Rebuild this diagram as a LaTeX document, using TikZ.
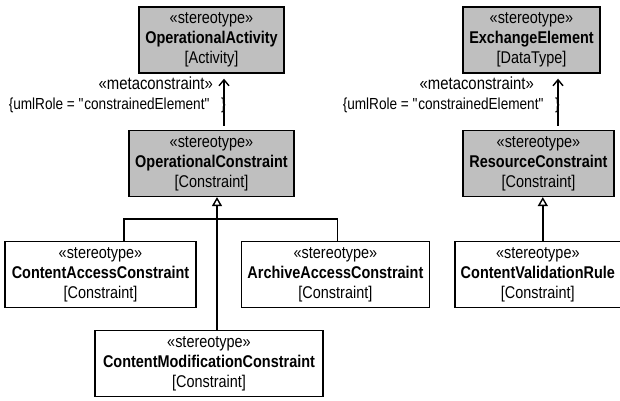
\documentclass[tikz,border=0pt]{standalone}
\usepackage{fontspec}
\setmainfont{Liberation Sans}[FakeStretch=0.85]
\usetikzlibrary{arrows.meta,positioning,calc}

\begin{document}
\begin{tikzpicture}[x=1pt,y=-1pt,>=Latex,
  stereobox/.style={draw,line width=1.4pt,align=center,inner sep=0pt,minimum height=66pt,font=\fontsize{17}{20}\selectfont},
  shaded/.style={stereobox,fill=gray!50},
  lbl/.style={anchor=east,inner sep=0pt,font=\fontsize{16}{18}\selectfont},
  gen/.style={line width=1.4pt,-{Triangle[open,length=9pt,width=10pt]}},
  meta/.style={line width=1.4pt,-{Straight Barb[length=6pt,width=10pt]},shorten >=5pt,shorten <=4pt}]
\useasboundingbox (0,0) rectangle (620,400);
\node[shaded,minimum width=145pt] (act) at (211.5,40) {«stereotype»\\\textbf{OperationalActivity}\\{[Activity]}};
\node[shaded,minimum width=165pt,below=56pt of act] (opc) {«stereotype»\\\textbf{OperationalConstraint}\\{[Constraint]}};
\node[shaded,minimum width=137pt] (exch) at (531.5,40) {«stereotype»\\\textbf{ExchangeElement}\\{[DataType]}};
\node[shaded,minimum width=151pt,below=56pt of exch,xshift=7pt] (resc) {«stereotype»\\\textbf{ResourceConstraint}\\{[Constraint]}};
\node[stereobox,minimum width=191pt] (cac) at (100.5,274.5) {«stereotype»\\\textbf{ContentAccessConstraint}\\{[Constraint]}};
\node[stereobox,minimum width=188pt,right=44pt of cac] (aac) {«stereotype»\\\textbf{ArchiveAccessConstraint}\\{[Constraint]}};
\node[stereobox,minimum width=166pt,right=24pt of aac] (cvr) {«stereotype»\\\textbf{ContentValidationRule}\\{[Constraint]}};
\node[stereobox,minimum width=228pt] (cmc) at (209,363.5) {«stereotype»\\\textbf{ContentModificationConstraint}\\{[Constraint]}};
\draw[gen] ([xshift=8pt]cmc.north) -- ([xshift=8pt]cmc.north |- opc.south);
\draw[line width=1.4pt] ([xshift=23.5pt]cac.north) -- ++(0,-22) -| ([xshift=2pt]aac.north);
\draw[gen] ([xshift=5pt]cvr.north) -- ([xshift=5pt]cvr.north |- resc.south);
\draw[meta] ([xshift=12.5pt]opc.north) -- ([xshift=12.5pt]opc.north |- act.south);
\draw[meta] ([xshift=19.5pt]resc.north) -- ([xshift=19.5pt]resc.north |- exch.south);
\node[lbl,font=\fontsize{17.5}{18}\selectfont] (mc1) at (213,83) {«metaconstraint»};
\node[lbl] (role1) at (226,105) {\{umlRole = \textquotedbl constrainedElement\textquotedbl\hspace{11pt}\}};
\node[lbl,font=\fontsize{17.5}{18}\selectfont] (mc2) at (534,83) {«metaconstraint»};
\node[lbl] (role2) at (560,105) {\{umlRole = \textquotedbl constrainedElement\textquotedbl\hspace{11pt}\}};
\end{tikzpicture}
\end{document}
